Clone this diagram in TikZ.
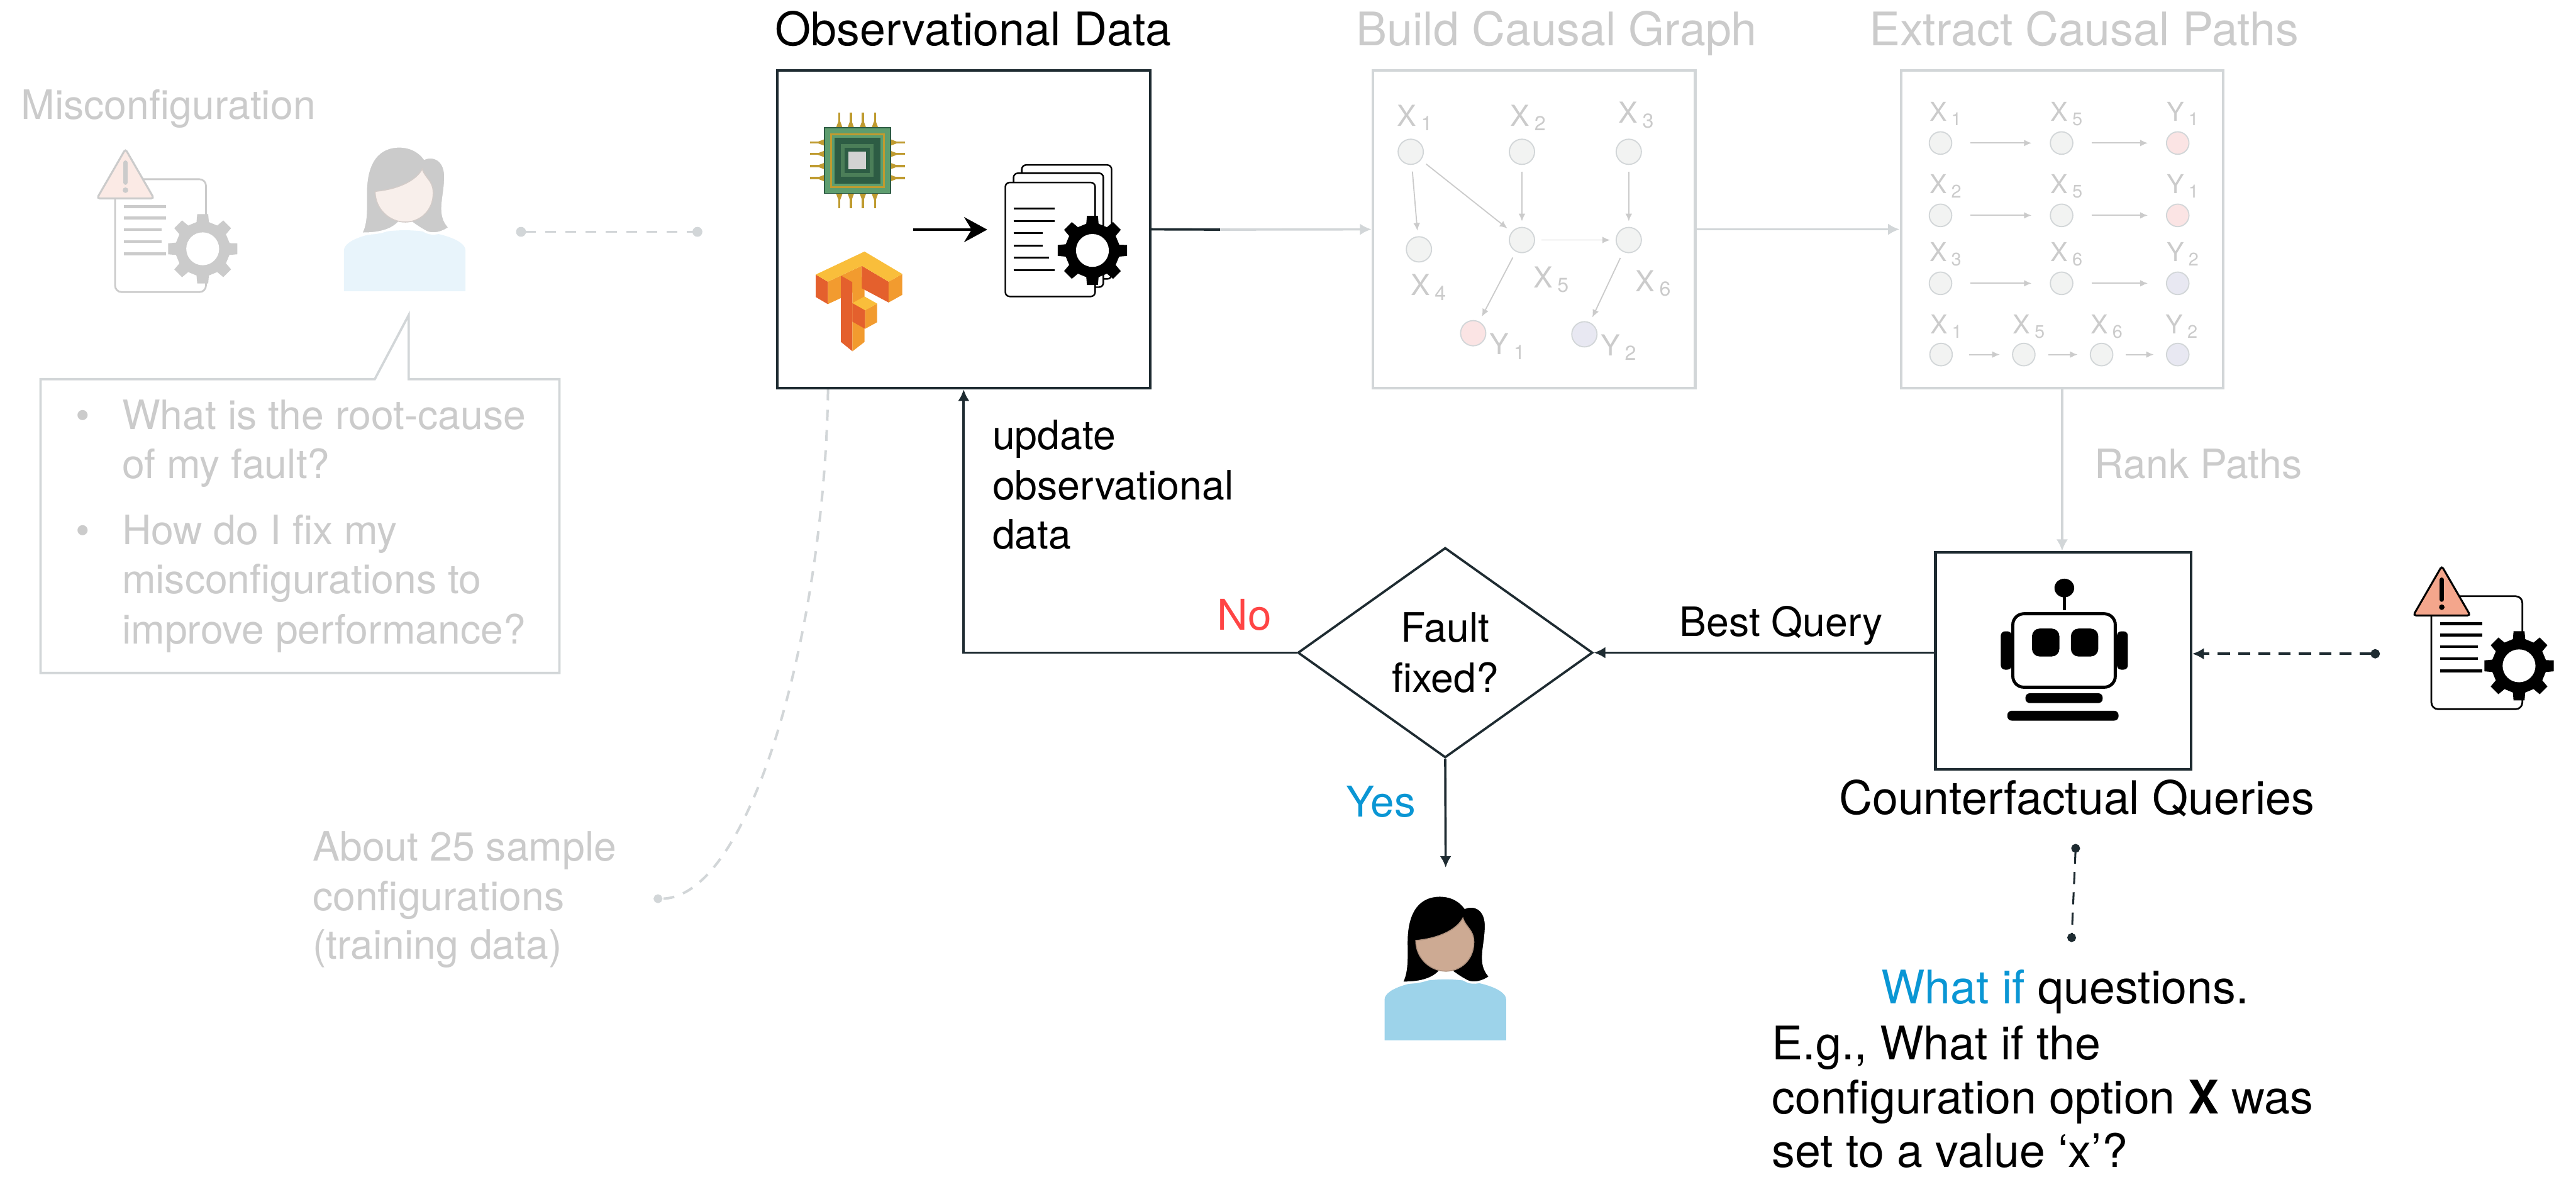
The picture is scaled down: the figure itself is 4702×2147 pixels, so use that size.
\documentclass[tikz,border=0pt]{standalone}
\usepackage{fontspec}
\setmainfont{TeX Gyre Heros}
\usetikzlibrary{arrows.meta, shapes.geometric, positioning, calc}

\definecolor{ink}{HTML}{1E2B31}
\definecolor{faint}{HTML}{D2D6D8}
\definecolor{fainttext}{HTML}{CBCBCB}
\definecolor{nored}{HTML}{FF4545}
\definecolor{yesblue}{HTML}{0A96D4}
\definecolor{nodegray}{HTML}{F2F3F2}
\definecolor{ypink}{HTML}{FBE4E4}
\definecolor{ylav}{HTML}{E8E8F2}
\definecolor{tfyellow}{HTML}{F9BE3B}
\definecolor{tforange}{HTML}{F29B2F}
\definecolor{tfred}{HTML}{E4602D}
\definecolor{chipgreen}{HTML}{5E9D6E}
\definecolor{chipdark}{HTML}{2D5C44}
\definecolor{chipgold}{HTML}{BF9B30}
\definecolor{warnsalmon}{HTML}{F4A68C}
\definecolor{warnpale}{HTML}{FBEAE5}
\definecolor{skin}{HTML}{CDAA93}
\definecolor{paleskin}{HTML}{F8EFEB}
\definecolor{shirt}{HTML}{9DD3EA}
\definecolor{paleshirt}{HTML}{E8F4FB}

\tikzset{
  heading/.style={font=\fontsize{24}{29}\selectfont, inner sep=0pt, anchor=base west},
  words/.style={font=\fontsize{21}{26}\selectfont, inner sep=0pt, anchor=base west},
  box/.style={draw=ink, line width=1.4pt, inner sep=0pt},
  fadedbox/.style={draw=faint, line width=1.4pt, inner sep=0pt},
  decision/.style={diamond, draw=ink, line width=1.2pt, aspect=1.4, inner sep=0pt,
    minimum width=5.38cm, minimum height=3.83cm, align=center,
    font=\fontsize{21}{26}\selectfont},
  flow/.style={ink, line width=1.2pt, -{Latex[length=6pt,width=6pt]}},
  fadedflow/.style={faint, line width=1.2pt, -{Latex[length=6pt,width=6pt]}},
  inkdash/.style={ink, line width=1.2pt, dash pattern=on 0.22cm off 0.15cm},
  fadeddash/.style={faint, line width=1.3pt, dash pattern=on 0.2cm off 0.17cm},
  gvar/.style={circle, draw=faint, fill=nodegray, line width=0.6pt, minimum size=0.46cm, inner sep=0pt},
  pvar/.style={gvar, minimum size=0.41cm},
  glabel/.style={text=fainttext, font=\fontsize{15}{18}\selectfont, inner sep=0pt},
  plabel/.style={text=fainttext, font=\fontsize{13.5}{16}\selectfont, inner sep=0pt},
  garrow/.style={fainttext, line width=0.6pt, -{Latex[length=4pt,width=3.5pt]},
    shorten <=0.12cm, shorten >=0.1cm},
  parrow/.style={fainttext, line width=0.7pt, -{Latex[length=4pt,width=3.5pt]},
    shorten <=0.33cm, shorten >=0.33cm},
  figure/.style={inner sep=0pt, minimum width=2.22cm, minimum height=2.64cm},
  % gear with a white hole, radius 64
  pics/gear/.style={code={
    \fill[#1] (-12:50) \foreach \a in {0,45,...,315}{
      -- (\a-9:64) -- (\a+9:64) -- (\a+13:50) -- (\a+32:50)} -- cycle;
    \fill[white] (0,0) circle (30);
  }},
  % config sheet with warning sign: line colour, sign fill, gear colour
  pics/warndoc/.style n args={3}{code={
    \draw[#1, line width=0.9pt, fill=white, rounded corners=0.12cm] (0,0) rectangle (166,206);
    \foreach \y/\l in {50/93, 71/93, 92/85, 114/85, 136/93}
      \draw[#1, line width=1.5pt] (16,\y) -- (\l,\y);
    \pic at (160,127) {gear=#3};
    \filldraw[fill=#2, draw=#1, line width=1pt, rounded corners=0.05cm]
      (19,-55) -- (71,35) -- (-33,35) -- cycle;
    \draw[#1, line width=2.4pt, line cap=round] (19,-30) -- (19,6);
    \fill[#1] (19,20) circle (5);
  }},
  % person: hair, face, body colours
  pics/person/.style n args={3}{code={
    \fill[#3] (0,264) -- (0,190) .. controls (0,168) and (60,153) .. (111,153)
      .. controls (162,153) and (222,168) .. (222,190) -- (222,264) -- cycle;
    \filldraw[fill=#1, draw=white, line width=1.2pt] (31,159) .. controls (42,140) and (40,110) .. (40,85)
      .. controls (40,25) and (65,0) .. (101,0) .. controls (125,0) and (140,12) .. (147,22)
      .. controls (165,15) and (187,25) .. (185,60) .. controls (184,95) and (170,125) .. (193,148)
      .. controls (180,158) and (162,162) .. (150,156) .. controls (135,148) and (125,140) .. (118,135)
      -- (104,135) .. controls (95,145) and (80,160) .. (31,159) -- cycle;
    \filldraw[fill=#2, draw=#2!85!black, line width=0.5pt] (57,82) .. controls (100,78) and (132,62) .. (143,41)
      .. controls (148,58) and (163,62) .. (163,85) .. controls (163,118) and (138,138) .. (112,138)
      .. controls (84,138) and (57,115) .. (57,82) -- cycle;
  }}
}

\begin{document}
\begin{tikzpicture}[x=0.01cm, y=-0.01cm]
  \useasboundingbox (0,0) rectangle (4702,2147);

  %Left side: the user and her questions
  \node[words, text=fainttext] (misconf) at (38,218) {Misconfiguration};
  \pic at (210,327) {warndoc={fainttext}{warnpale}{fainttext}};
  \node[figure] (asker) at (739.5,400) {};
  \pic at (asker.north west) {person={fainttext}{paleskin}{paleshirt}};
  \draw[faint, line width=1.2pt] (684,692) -- (746,575) -- (746,692) -- (1021,692)
    -- (1021,1228) -- (74,1228) -- (74,692) -- cycle;
  \node[words, text=fainttext] (dot1) at (138,784) {\textbullet};
  \node[words, text=fainttext] (dot2) at (138,994) {\textbullet};
  \foreach \y/\txt in {784/What is the root-cause, 873/of my fault?, 994/How do I fix my,
      1083/misconfigurations to, 1175/improve performance?}
    \node[words, text=fainttext] (ask\y) at (222,\y) {\txt};
  \foreach \y/\txt in {1571/About 25 sample, 1662/configurations, 1750/(training data)}
    \node[words, text=fainttext] (sample\y) at (570,\y) {\txt};

  %Headings
  \node[heading] (obstitle) at (1414,83) {Observational Data};
  \node[heading, text=fainttext] (graphtitle) at (2475,83) {Build Causal Graph};
  \node[heading, text=fainttext] (pathtitle) at (3411,83) {Extract Causal Paths};

  %Boxes
  \node[box, minimum width=6.8cm, minimum height=5.79cm] (obs) at (1759,418.5) {};
  \node[fadedbox, minimum width=5.88cm, minimum height=5.79cm] (graph) at (2800,418.5) {};
  \node[fadedbox, minimum width=5.88cm, minimum height=5.79cm] (paths) at (3764,418.5) {};
  \node[box, minimum width=4.66cm, minimum height=3.96cm] (robot) at (3766,1206) {};
  \node[decision] (fix) at (2638,1191) {Fault\\fixed?};
  \node[figure] (user) at (2639,1767) {};
  \pic at (user.north west) {person={black}{skin}{shirt}};

  %Chip
  \begin{scope}[shift={(1565,293)}]
    \foreach \t in {-33,-12,10,32} {
      \draw[chipgold, line width=1.1pt] (\t,-60) -- (\t,-87) (\t,60) -- (\t,87)
        (-60,\t) -- (-87,\t) (60,\t) -- (87,\t);
      \fill[chipgold] (\t-6,-60) -- (\t+6,-60) -- (\t,-76) -- cycle
        (\t-6,60) -- (\t+6,60) -- (\t,76) -- cycle
        (-60,\t-6) -- (-60,\t+6) -- (-76,\t) -- cycle
        (60,\t-6) -- (60,\t+6) -- (76,\t) -- cycle;
    }
    \filldraw[fill=chipgreen, draw=chipdark, line width=0.6pt] (-60,-60) rectangle (60,60);
    \draw[chipgold, line width=1pt] (-48,-48) rectangle (48,48);
    \fill[chipdark] (-42,-42) rectangle (42,42);
    \fill[chipgreen!80!black] (-30,-30) rectangle (30,30);
    \fill[chipdark] (-23,-23) rectangle (23,23);
    \fill[gray!35] (-16,-16) rectangle (16,16);
  \end{scope}

  %TensorFlow logo
  \fill[tforange] (1511,514) -- (1573,485) -- (1573,526) -- (1511,555) -- cycle;
  \fill[tfred] (1489,501) -- (1511,514) -- (1511,555) -- (1489,542) -- cycle;
  \fill[tfred] (1535,503) -- (1556,515) -- (1556,641) -- (1535,624) -- cycle;
  \fill[tforange] (1556,515) -- (1578,503) -- (1578,624) -- (1556,641) -- cycle;
  \fill[tfred] (1573,485) -- (1622,514) -- (1622,552) -- (1573,526) -- cycle;
  \fill[tforange] (1622,514) -- (1647,500) -- (1647,538) -- (1622,552) -- cycle;
  \fill[tfyellow] (1489,501) -- (1578,459) -- (1647,500) -- (1622,514) -- (1573,485) -- (1511,514) -- cycle;
  \fill[tfred] (1556,553) -- (1579,566) -- (1579,600) -- (1556,587) -- cycle;
  \fill[tforange] (1579,566) -- (1601,554) -- (1601,588) -- (1579,600) -- cycle;
  \fill[tfyellow] (1556,553) -- (1578,541) -- (1601,554) -- (1579,566) -- cycle;

  %Config sheets with gear
  \foreach \dx/\dy in {30/-32, 15/-17, 0/0}
    \draw[black, line width=0.8pt, fill=white, rounded corners=0.08cm]
      (1835+\dx,333+\dy) rectangle (1999+\dx,541+\dy);
  \foreach \y/\l in {381/1925, 404/1925, 425/1903, 448/1903, 470/1915, 493/1925}
    \draw[black, line width=1pt] (1850,\y) -- (\l,\y);
  \pic at (1994,457) {gear=black};
  \coordinate (srcs) at (1667,419);
  \coordinate (sheets) at (1802,419);
  \draw[black, line width=1.2pt, -{Stealth[length=12pt,width=13pt]}] (srcs) -- (sheets);

  %Causal graph
  \node[gvar] (x1) at (2575,277) {};
  \node[gvar] (x2) at (2778,277) {};
  \node[gvar] (x3) at (2973,277) {};
  \node[gvar] (x4) at (2590,455) {};
  \node[gvar] (x5) at (2778,438) {};
  \node[gvar] (x6) at (2973,438) {};
  \node[gvar, fill=ypink] (y1) at (2689,608) {};
  \node[gvar, fill=ylav] (y2) at (2892,610) {};
  \node[glabel] (lx1) at (2583,215) {X\,\textsubscript{1}};
  \node[glabel] (lx2) at (2790,215) {X\,\textsubscript{2}};
  \node[glabel] (lx3) at (2987,210) {X\,\textsubscript{3}};
  \node[glabel] (lx4) at (2608,524) {X\,\textsubscript{4}};
  \node[glabel] (lx5) at (2832,510) {X\,\textsubscript{5}};
  \node[glabel] (lx6) at (3018,517) {X\,\textsubscript{6}};
  \node[glabel] (ly1) at (2752,632) {Y\,\textsubscript{1}};
  \node[glabel] (ly2) at (2955,634) {Y\,\textsubscript{2}};
  \draw[garrow] (x1) -- (x4);
  \draw[garrow] (x1) -- (x5);
  \draw[garrow] (x2) -- (x5);
  \draw[garrow] (x3) -- (x6);
  \draw[garrow] (x5) -- (x6);
  \draw[garrow] (x5) -- (y1);
  \draw[garrow] (x6) -- (y2);

  %Causal paths
  \foreach \r/\y/\i/\j/\k/\tone in {1/261/1/5/1/ypink, 2/393/2/5/1/ypink, 3/517/3/6/2/ylav} {
    \node[pvar] (r\r-a) at (3542,\y) {};
    \node[pvar] (r\r-b) at (3763,\y) {};
    \node[pvar, fill=\tone] (r\r-c) at (3975,\y) {};
    \node[plabel] (r\r-la) at (3552,\y-53) {X\,\textsubscript{\i}};
    \node[plabel] (r\r-lb) at (3773,\y-53) {X\,\textsubscript{\j}};
    \node[plabel] (r\r-lc) at (3985,\y-53) {Y\,\textsubscript{\k}};
    \draw[parrow] (r\r-a) -- (r\r-b);
    \draw[parrow] (r\r-b) -- (r\r-c);
  }
  \node[pvar] (r4-a) at (3543,647) {};
  \node[pvar] (r4-b) at (3694,647) {};
  \node[pvar] (r4-c) at (3836,647) {};
  \node[pvar, fill=ylav] (r4-d) at (3975,647) {};
  \node[plabel] (r4-la) at (3553,596) {X\,\textsubscript{1}};
  \node[plabel] (r4-lb) at (3704,596) {X\,\textsubscript{5}};
  \node[plabel] (r4-lc) at (3846,596) {X\,\textsubscript{6}};
  \node[plabel] (r4-ld) at (3983,596) {Y\,\textsubscript{2}};
  \draw[parrow, shorten <=0.3cm, shorten >=0.22cm] (r4-a) -- (r4-b);
  \draw[parrow, shorten <=0.23cm, shorten >=0.22cm] (r4-b) -- (r4-c);
  \draw[parrow, shorten <=0.23cm, shorten >=0.22cm] (r4-c) -- (r4-d);

  %Robot
  \fill[black] (3768,1073) ellipse (18 and 17);
  \draw[black, line width=1.4pt] (3768,1085) -- (3768,1114);
  \fill[black, rounded corners=0.08cm] (3652,1152) rectangle (3672,1222);
  \fill[black, rounded corners=0.08cm] (3864,1152) rectangle (3884,1222);
  \draw[black, line width=1.6pt, fill=white, rounded corners=0.2cm] (3674,1120) rectangle (3861,1254);
  \fill[black, rounded corners=0.14cm] (3709,1147) rectangle (3759,1198);
  \fill[black, rounded corners=0.14cm] (3780,1147) rectangle (3830,1198);
  \fill[black, rounded corners=0.08cm] (3697,1265) rectangle (3838,1283);
  \fill[black, rounded corners=0.08cm] (3664,1297) rectangle (3867,1315);
  \pic at (4438,1088) {warndoc={black}{warnsalmon}{black}};

  %Connectors
  \coordinate (split) at (2227,419);
  \draw[ink, line width=1.2pt] (obs.east) -- (split);
  \draw[fadedflow] (split) -- (graph.west);
  \draw[fadedflow] (graph.east) -- (paths.west);
  \draw[fadedflow] (paths.south) -- (paths.south |- robot.north);
  \draw[flow] (fix.east -| robot.west) -- (fix.east);
  \draw[flow] (fix.west) -| (obs.south);
  \draw[flow, shorten >=0.51cm] (fix.south) -- (user.north);
  \coordinate (warnlink) at (4344,1193);
  \draw[inkdash, line width=1.3pt, {Circle[length=0.17cm]}-{Latex[length=6pt,width=6pt]}]
    (warnlink) -- (warnlink -| robot.east);
  \coordinate (cqtop) at (3789,1540);
  \coordinate (cqbot) at (3781,1719);
  \draw[inkdash, line width=1pt, {Circle[length=0.16cm]}-{Circle[length=0.16cm]}] (cqtop) -- (cqbot);
  \coordinate (askdot) at (942,423);
  \coordinate (obsdot) at (1282,423);
  \draw[fadeddash, {Circle[length=0.18cm]}-{Circle[length=0.18cm]}] (askdot) -- (obsdot);
  \coordinate (sampledot) at (1193,1640);
  \draw[fadeddash, -{Circle[length=0.16cm]}] ([xshift=0.95cm]obs.south west)
    .. controls (1505,1150) and (1370,1640) .. (sampledot);

  %Labels
  \node[words, text=fainttext] (rank) at (3823,873) {Rank Paths};
  \node[words] (best) at (3065,1161) {Best Query};
  \foreach \y/\txt in {820/update, 912/observational, 1002/data}
    \node[words] (upd\y) at (1811,\y) {\txt};
  \node[words, font=\fontsize{22}{26}\selectfont, text=nored] (no) at (2221,1150) {No};
  \node[words, font=\fontsize{22}{26}\selectfont, text=yesblue] (yes) at (2457,1491) {Yes};
  \node[heading] (cq) at (3356,1486) {Counterfactual Queries};
  \node[heading] (whatif) at (3433,1832) {\textcolor{yesblue}{What if} questions.};
  \foreach \y/\txt in {1934/{E.g., What if the}, 2032/{configuration option \textbf{X} was},
      2130/{set to a value ‘x’?}}
    \node[heading] (eg\y) at (3234,\y) {\txt};
\end{tikzpicture}
\end{document}
